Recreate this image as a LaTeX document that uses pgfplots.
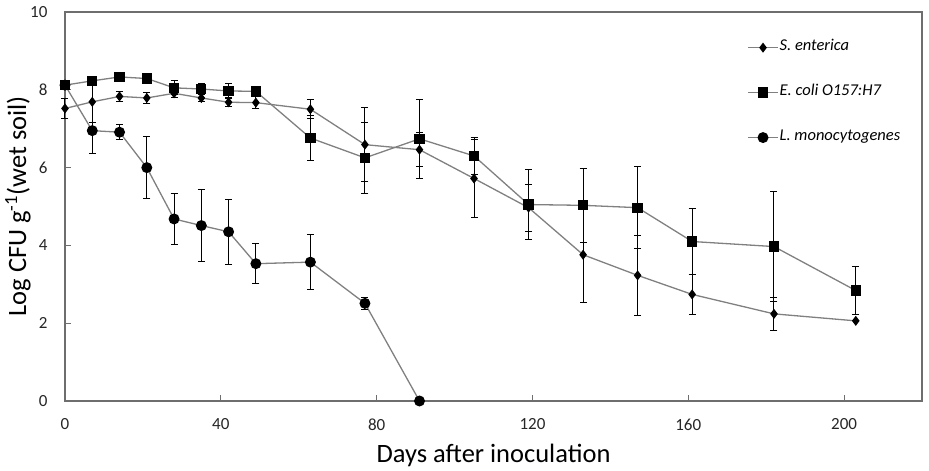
\documentclass[border=0pt]{standalone}
\usepackage{fontspec}
\setmainfont{Carlito}
\usepackage{pgfplots}
\pgfplotsset{compat=1.18}

\definecolor{linegray}{HTML}{808080}
\definecolor{axisgray}{HTML}{6E6E6E}

\pgfplotsset{
  series/.style={color=linegray, line width=1.3bp, mark options={fill=black, draw=black, solid}},
  sent/.style={series, mark=diamond*, mark size=4bp},
  ecol/.style={series, mark=square*, mark size=4.5bp},
  lmon/.style={series, mark=*, mark size=4.8bp},
  bars/.style={
    error bars/y dir=both, error bars/y explicit,
    error bars/error bar style={black, line width=1bp},
    error bars/error mark options={rotate=90, mark size=3.5bp, black, line width=1bp}},
}

\begin{document}
\begin{tikzpicture}
\begin{axis}[
  scale only axis, width=857bp, height=389bp,
  xmin=0, xmax=220, ymin=0, ymax=10,
  xtick={0,40,...,200}, ytick={0,2,...,10},
  xtick pos=lower, ytick pos=left,
  tick align=inside, major tick length=6bp,
  axis line style={draw=axisgray, line width=1.2bp},
  tick style={axisgray, line width=1bp},
  ticklabel style={font=\fontsize{17bp}{20bp}\selectfont, text=black!85},
  /pgf/number format/assume math mode=true,
  xticklabel style={yshift=-14bp},
  yticklabel style={xshift=-14bp},
  xlabel={Days after inoculation},
  ylabel={Log CFU g\textsuperscript{-1}(wet soil)},
  label style={font=\fontsize{26.5bp}{30bp}\selectfont},
  x label style={at={(axis description cs:0.5,-0.139)}, anchor=center},
  y label style={at={(axis description cs:-0.0548,0.5)}, anchor=center},
  clip=false,
  legend image code/.code={
    \draw[mark repeat=2, mark phase=2, #1] plot coordinates {(0bp,0bp) (15bp,0bp) (30bp,0bp)};},
  legend style={draw=none, fill=none, inner sep=0pt, row sep=34bp,
    font=\fontsize{16.5bp}{19bp}\selectfont\itshape,
    nodes={inner sep=1bp, anchor=west, text height=0.7em, text depth=0.2em},
    at={(axis description cs:0.796,0.923)}, anchor=north west},
  legend cell align=left,
]

% L. monocytogenes is drawn first so the E. coli square sits on top at day 0
\addplot[lmon, bars, forget plot] coordinates {
  (0,8.12)   +- (0,0)
  (7,6.95)   += (0,0.22) -= (0,0.59)
  (14,6.91)  +- (0,0.19)
  (21,6.00)  +- (0,0.80)
  (28,4.68)  +- (0,0.65)
  (35,4.51)  +- (0,0.92)
  (42,4.35)  +- (0,0.84)
  (49,3.53)  +- (0,0.51)
  (63,3.57)  +- (0,0.70)
  (77,2.51)  +- (0,0.15)
  (91,0.00)  +- (0,0)
};

\addplot[sent, bars, forget plot] coordinates {
  (0,7.52)   +- (0,0.25)
  (7,7.69)   +- (0,0.53)
  (14,7.83)  +- (0,0.12)
  (21,7.79)  +- (0,0.15)
  (28,7.91)  +- (0,0.12)
  (35,7.79)  +- (0,0.10)
  (42,7.68)  +- (0,0.12)
  (49,7.67)  +- (0,0.15)
  (63,7.50)  +- (0,0.25)
  (77,6.59)  +- (0,0.96)
  (91,6.46)  +- (0,0.44)
  (105,5.72) +- (0,1.00)
  (119,4.97) +- (0,0.60)
  (133,3.76) +- (0,1.24)
  (147,3.23) +- (0,1.02)
  (161,2.74) +- (0,0.52)
  (182,2.24) +- (0,0.43)
  (203,2.06) +- (0,0)
};

\addplot[ecol, bars, forget plot] coordinates {
  (0,8.12)   +- (0,0.05)
  (7,8.23)   +- (0,0.05)
  (14,8.33)  +- (0,0.05)
  (21,8.29)  +- (0,0.05)
  (28,8.05)  +- (0,0.18)
  (35,8.02)  +- (0,0.15)
  (42,7.97)  +- (0,0.20)
  (49,7.96)  +- (0,0.05)
  (63,6.76)  +- (0,0.57)
  (77,6.25)  +- (0,0.92)
  (91,6.74)  +- (0,1.02)
  (105,6.30) +- (0,0.48)
  (119,5.05) +- (0,0.90)
  (133,5.03) +- (0,0.95)
  (147,4.97) +- (0,1.05)
  (161,4.10) +- (0,0.86)
  (182,3.97) +- (0,1.41)
  (203,2.84) +- (0,0.62)
};

\addlegendimage{sent}
\addlegendentry{S. enterica}
\addlegendimage{ecol}
\addlegendentry{E. coli O157:H7}
\addlegendimage{lmon}
\addlegendentry{L. monocytogenes}
\end{axis}
\pgfresetboundingbox
\path[use as bounding box] ([xshift=-65bp,yshift=-70bp]current axis.south west)
  rectangle ([xshift=7bp,yshift=12bp]current axis.north east);
\end{tikzpicture}
\end{document}
